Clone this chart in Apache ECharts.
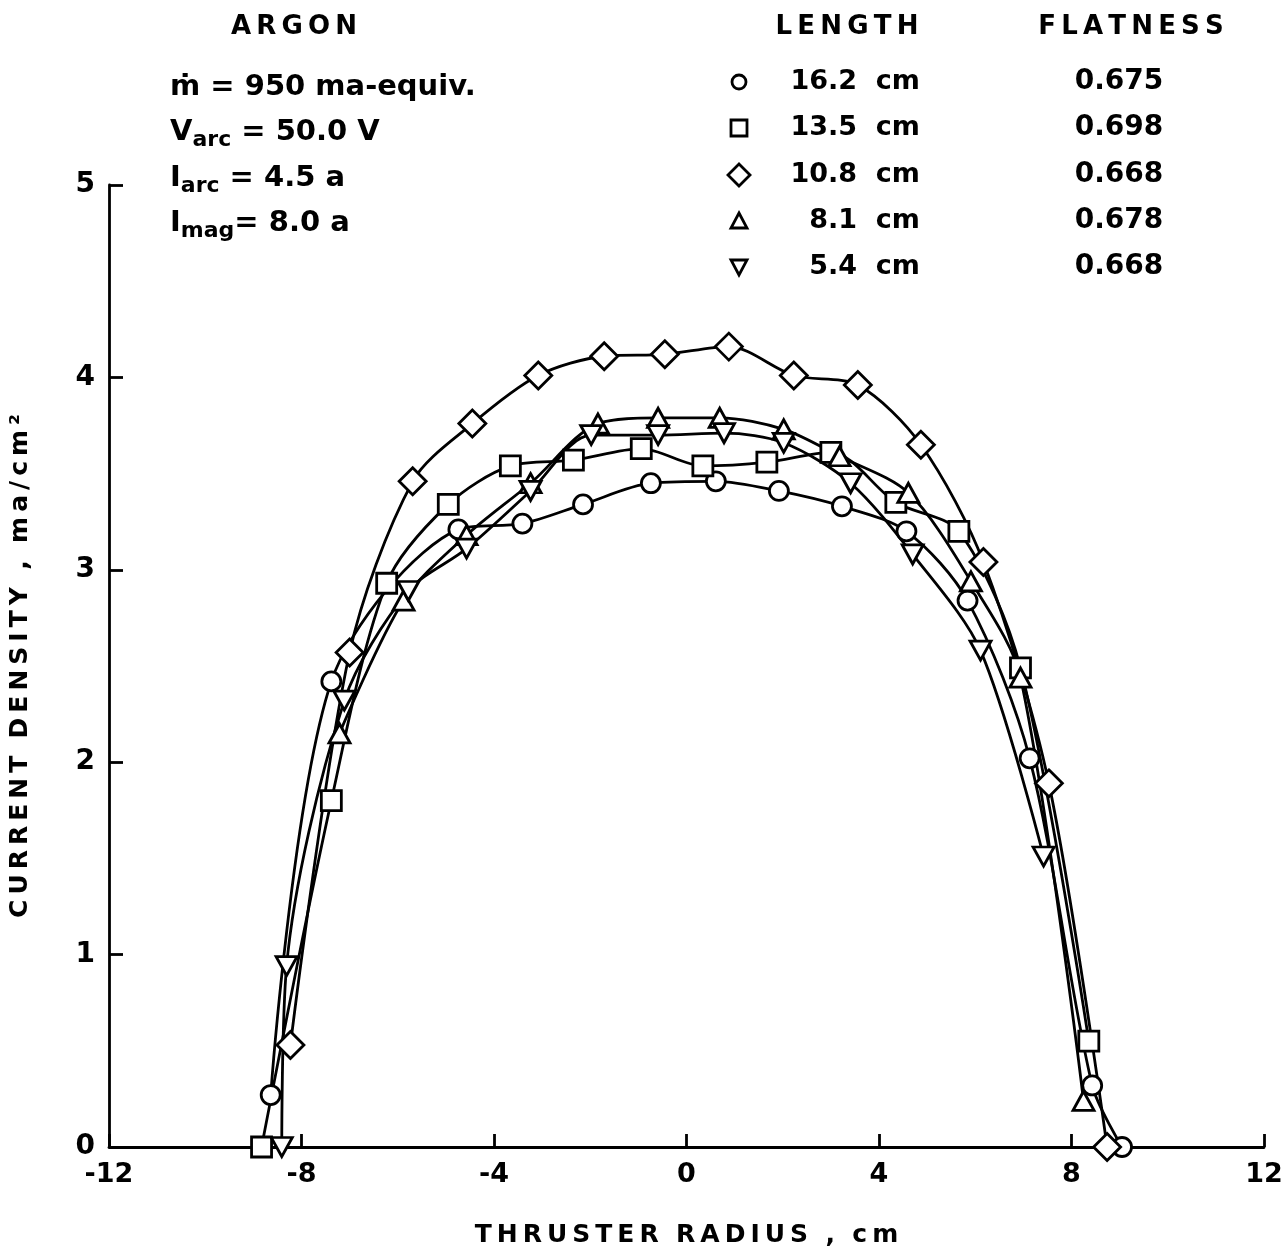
<!DOCTYPE html>
<html>
<head>
<meta charset="utf-8">
<script src="https://cdn.jsdelivr.net/npm/echarts@6/dist/echarts.min.js"></script>
<style>
html,body{margin:0;padding:0;background:#fff;}
#chart{width:1287px;height:1253px;}
</style>
</head>
<body>
<div id="chart"></div>
<script>
// ---- data ----
const xTicks = [-12, -8, -4, 0, 4, 8, 12];
const yTicks = [0, 1, 2, 3, 4, 5];

// 16.2 cm (circles)
const r162 = [-8.64, -7.38, -4.74, -3.41, -2.15, -0.74, 0.61, 1.92, 3.23, 4.57, 5.84, 7.13, 8.43, 9.05];
const j162 = [0.27, 2.42, 3.21, 3.24, 3.34, 3.45, 3.46, 3.41, 3.33, 3.20, 2.84, 2.02, 0.32, 0.0];
// 13.5 cm (squares)
const r135 = [-8.83, -7.38, -6.23, -4.95, -3.66, -2.35, -0.94, 0.34, 1.67, 3.0, 4.35, 5.66, 6.94, 8.36];
const j135 = [0.0, 1.80, 2.93, 3.34, 3.54, 3.57, 3.63, 3.54, 3.56, 3.61, 3.35, 3.20, 2.49, 0.55];
// 10.8 cm (diamonds)
const r108 = [-8.23, -7.0, -5.69, -4.45, -3.08, -1.71, -0.45, 0.88, 2.23, 3.56, 4.87, 6.17, 7.53, 8.74];
const j108 = [0.53, 2.57, 3.46, 3.76, 4.01, 4.11, 4.12, 4.16, 4.01, 3.96, 3.65, 3.04, 1.89, 0.0];
// 8.1 cm (up triangles)
const r81 = [-7.21, -5.88, -4.57, -3.24, -1.84, -0.59, 0.69, 2.02, 3.18, 4.61, 5.91, 6.94, 8.25];
const j81 = [2.15, 2.84, 3.18, 3.45, 3.76, 3.79, 3.79, 3.73, 3.59, 3.40, 2.94, 2.44, 0.24];
// 5.4 cm (down triangles)
const r54 = [-8.41, -8.31, -7.11, -5.78, -4.57, -3.24, -1.98, -0.59, 0.78, 2.02, 3.41, 4.70, 6.11, 7.42];
const j54 = [0.0, 0.94, 2.32, 2.89, 3.11, 3.41, 3.70, 3.70, 3.71, 3.66, 3.45, 3.08, 2.58, 1.51];

const lengths = ['16.2  cm', '13.5  cm', '10.8  cm', '8.1  cm', '5.4  cm'];
const flatness = ['0.675', '0.698', '0.668', '0.678', '0.668'];
const conditions = ['ṁ = 950 ma-equiv.'];

// ---- build ----
const zip = (xs, ys) => xs.map((x, i) => [x, ys[i]]);
const triDown = 'path://M0,0 L10,0 L5,9 Z';
const triUp = 'path://M5,0 L10,9 L0,9 Z';
const seriesDefs = [
  {name: lengths[0], data: zip(r162, j162), symbol: 'circle', size: 19},
  {name: lengths[1], data: zip(r135, j135), symbol: 'rect', size: 20},
  {name: lengths[2], data: zip(r108, j108), symbol: 'diamond', size: 27},
  {name: lengths[3], data: zip(r81, j81), symbol: triUp, size: [21, 19]},
  {name: lengths[4], data: zip(r54, j54), symbol: triDown, size: [21, 19]}
];

const FONT = '"DejaVu Sans"';
const T = '\u2009'; // thin space for letter spacing
const spaced = s => s.split('').join(T);

const series = seriesDefs.map(s => ({
  name: s.name,
  type: 'line',
  data: s.data,
  smooth: 0.3,
  symbol: s.symbol,
  symbolSize: s.size,
  showAllSymbol: true,
  lineStyle: {color: '#000', width: 2.8},
  itemStyle: {color: '#fff', borderColor: '#000', borderWidth: 2.8},
  emphasis: {disabled: true},
  animation: false,
  z: 3
}));

// legend / annotation graphics
const rowY = [82, 128, 175, 221, 267];
const symX = 739;
const graphics = [];
const txt = (x, y, text, align, size, extra) => Object.assign({
  type: 'text', x: x, y: y,
  style: {text: text, fill: '#000', font: 'bold ' + (size || 27) + 'px ' + FONT,
          textAlign: align || 'left', textVerticalAlign: 'middle'}
}, extra || {});

graphics.push(txt(294, 27, spaced('ARGON'), 'center', 26));
graphics.push(txt(847, 27, spaced('LENGTH'), 'center', 26));
graphics.push(txt(1131, 27, spaced('FLATNESS'), 'center', 26));
graphics.push(txt(170, 87, conditions[0], 'left', 29));
const rich = {
  m: {font: 'bold 29px ' + FONT, fill: '#000'},
  s: {font: 'bold 22px ' + FONT, fill: '#000', padding: [16, 0, 0, 0]}
};
graphics.push({type: 'text', x: 170, y: 132,
  style: {text: '{m|V}{s|arc}{m| = 50.0 V}', textVerticalAlign: 'middle', rich: rich}});
graphics.push({type: 'text', x: 170, y: 178,
  style: {text: '{m|I}{s|arc}{m| = 4.5 a}', textVerticalAlign: 'middle', rich: rich}});
graphics.push({type: 'text', x: 170, y: 223,
  style: {text: '{m|I}{s|mag}{m|= 8.0 a}', textVerticalAlign: 'middle', rich: rich}});

const legendShape = (i, y) => {
  const st = {fill: '#fff', stroke: '#000', lineWidth: 2.8};
  if (i === 0) return {type: 'circle', shape: {cx: symX, cy: y, r: 7}, style: st};
  if (i === 1) return {type: 'rect', shape: {x: symX - 8, y: y - 8, width: 16, height: 16}, style: st};
  if (i === 2) return {type: 'polygon', shape: {points: [[symX, y - 11], [symX + 11, y], [symX, y + 11], [symX - 11, y]]}, style: st};
  if (i === 3) return {type: 'polygon', shape: {points: [[symX, y - 8], [symX + 8, y + 7], [symX - 8, y + 7]]}, style: st};
  return {type: 'polygon', shape: {points: [[symX - 8, y - 7], [symX + 8, y - 7], [symX, y + 8]]}, style: st};
};
lengths.forEach((L, i) => {
  graphics.push(legendShape(i, rowY[i]));
  graphics.push(txt(920, rowY[i], L, 'right', 27));
  graphics.push(txt(1119, rowY[i], flatness[i], 'center', 28));
});

const chart = echarts.init(document.getElementById('chart'), null, {renderer: 'canvas'});
chart.setOption({
  backgroundColor: '#fff',
  animation: false,
  grid: {left: 107, right: 23, top: 185, bottom: 102, containLabel: false},
  xAxis: {
    type: 'value', min: -12, max: 12, interval: 4,
    name: spaced('THRUSTER') + '  ' + spaced('RADIUS') + '  ,  ' + spaced('cm'),
    nameLocation: 'middle', nameGap: 76,
    nameTextStyle: {color: '#000', fontFamily: 'DejaVu Sans', fontWeight: 'bold', fontSize: 25},
    axisLine: {onZero: false, lineStyle: {color: '#000', width: 2.8}},
    axisTick: {inside: true, length: 13, lineStyle: {color: '#000', width: 2.8}},
    axisLabel: {color: '#000', fontFamily: 'DejaVu Sans', fontWeight: 'bold', fontSize: 27, margin: 14,
      formatter: v => xTicks.includes(v) ? String(v) : ''},
    splitLine: {show: false}
  },
  yAxis: {
    type: 'value', min: 0, max: 5, interval: 1,
    name: spaced('CURRENT') + '  ' + spaced('DENSITY') + '  ,  ' + spaced('ma/cm²'),
    nameLocation: 'middle', nameGap: 76, nameRotate: 90,
    nameTextStyle: {color: '#000', fontFamily: 'DejaVu Sans', fontWeight: 'bold', fontSize: 25},
    axisLine: {show: true, onZero: false, lineStyle: {color: '#000', width: 2.8}},
    axisTick: {show: true, inside: true, length: 14, lineStyle: {color: '#000', width: 2.8}},
    axisLabel: {color: '#000', fontFamily: 'DejaVu Sans', fontWeight: 'bold', fontSize: 28, margin: 14,
      formatter: v => yTicks.includes(v) ? String(v) : ''},
    splitLine: {show: false}
  },
  series: series,
  graphic: graphics
});
</script>
</body>
</html>
